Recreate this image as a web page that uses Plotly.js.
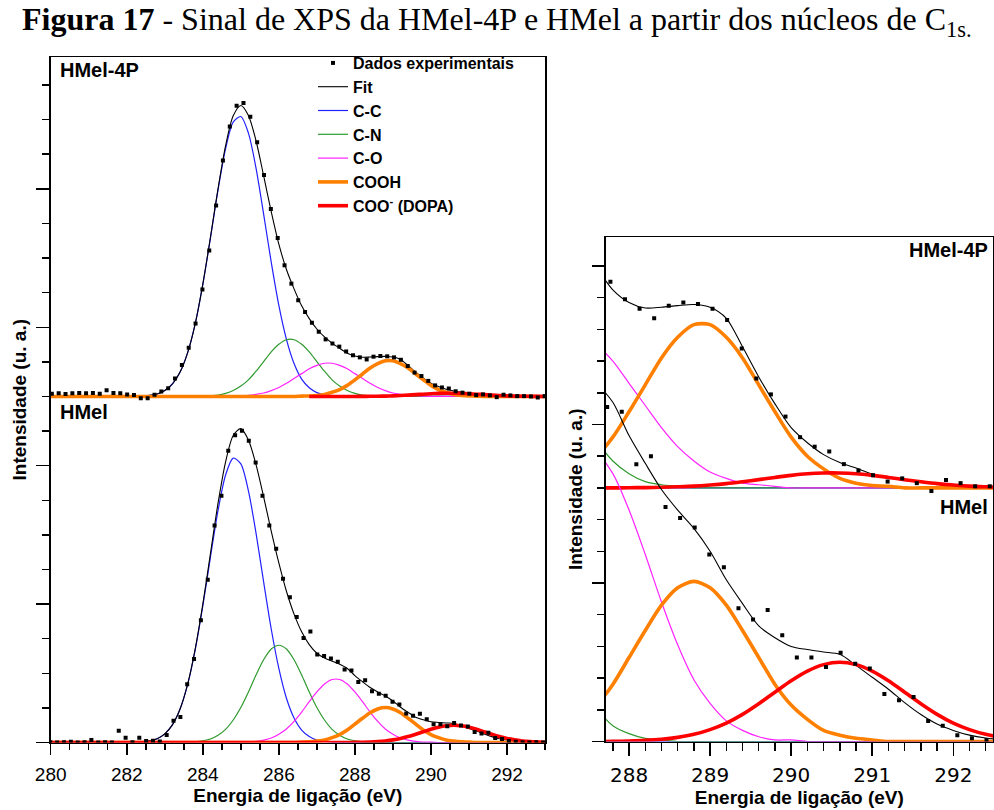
<!DOCTYPE html>
<html>
<head>
<meta charset="utf-8">
<script src="https://cdn.plot.ly/plotly-3.0.1.min.js"></script>
<style>
  html, body { margin: 0; padding: 0; background: #ffffff; }
  #grafico { width: 994px; height: 810px; }
</style>
</head>
<body>
<div id="grafico"></div>
<script>
// ---- Experimental points (binding energy in eV, intensity in arbitrary units) ----
const energiaHMel4P = [
  280.03, 280.21, 280.39, 280.57, 280.75, 280.93, 281.11, 281.29, 281.47, 281.65,
  281.83, 282.01, 282.19, 282.37, 282.55, 282.73, 282.91, 283.09, 283.27, 283.45,
  283.63, 283.81, 283.99, 284.17, 284.35, 284.53, 284.71, 284.89, 285.07, 285.25,
  285.43, 285.61, 285.79, 285.97, 286.15, 286.33, 286.51, 286.69, 286.87, 287.05,
  287.23, 287.41, 287.59, 287.77, 287.95, 288.13, 288.31, 288.49, 288.67, 288.85,
  289.03, 289.21, 289.39, 289.57, 289.75, 289.93, 290.11, 290.29, 290.47, 290.65,
  290.83, 291.01, 291.19, 291.37, 291.55, 291.73, 291.91, 292.09, 292.27, 292.45,
  292.63, 292.81, 292.99
];
const dadosHMel4P = [
  0.08, 0.09, 0.07, 0.09, 0.10, 0.09, 0.10, 0.08, 0.18, 0.10,
  0.09, 0.06, 0.04, -0.05, -0.05, 0.05, 0.14, 0.24, 0.52, 0.91,
  1.41, 2.11, 3.09, 4.22, 5.52, 6.82, 7.80, 8.40, 8.48, 8.08,
  7.35, 6.40, 5.42, 4.58, 3.79, 3.26, 2.78, 2.44, 2.13, 1.87,
  1.65, 1.53, 1.44, 1.30, 1.19, 1.13, 1.07, 1.15, 1.17, 1.16,
  1.13, 1.06, 0.88, 0.69, 0.59, 0.45, 0.32, 0.26, 0.23, 0.15,
  0.11, 0.08, 0.04, 0.06, 0.03, -0.02, 0.05, 0.03, 0.01, 0.01,
  0.00, -0.03, 0.01
];
const energiaHMel = [
  279.99, 280.17, 280.35, 280.53, 280.71, 280.89, 281.07, 281.25, 281.43, 281.61,
  281.79, 281.97, 282.15, 282.33, 282.51, 282.69, 282.87, 283.05, 283.23, 283.41,
  283.59, 283.77, 283.95, 284.13, 284.31, 284.49, 284.67, 284.85, 285.03, 285.21,
  285.39, 285.57, 285.75, 285.93, 286.11, 286.29, 286.47, 286.65, 286.83, 287.01,
  287.19, 287.37, 287.55, 287.73, 287.91, 288.09, 288.27, 288.45, 288.63, 288.81,
  288.99, 289.17, 289.35, 289.53, 289.71, 289.89, 290.07, 290.25, 290.43, 290.61,
  290.79, 290.97, 291.15, 291.33, 291.51, 291.69, 291.87, 292.05, 292.23, 292.41,
  292.59, 292.77, 292.95
];
const dadosHMel = [
  0.01, 0.00, 0.01, 0.02, 0.00, 0.01, 0.07, 0.00, 0.01, 0.00,
  0.34, 0.14, 0.01, 0.14, 0.04, 0.05, 0.03, 0.22, 0.63, 0.74,
  1.68, 2.41, 3.53, 4.70, 6.27, 7.13, 8.43, 8.88, 9.01, 8.72,
  8.09, 7.13, 6.27, 5.60, 4.73, 4.20, 3.63, 3.02, 3.21, 2.54,
  2.50, 2.43, 2.33, 2.11, 2.08, 1.75, 1.80, 1.48, 1.41, 1.35,
  1.18, 1.10, 0.84, 0.77, 0.83, 0.67, 0.53, 0.53, 0.47, 0.56,
  0.49, 0.46, 0.30, 0.26, 0.28, 0.13, 0.10, 0.04, 0.02, 0.01,
  0.00, 0.01, 0.00
];

// ---- Fit envelope and fitted components, on a common energy grid ----
const energiaAjuste = [
  280.0, 280.2, 280.4, 280.6, 280.8, 281.0, 281.2, 281.4, 281.6, 281.8,
  282.0, 282.2, 282.4, 282.6, 282.8, 283.0, 283.2, 283.4, 283.6, 283.8,
  284.0, 284.2, 284.4, 284.6, 284.8, 285.0, 285.2, 285.4, 285.6, 285.8,
  286.0, 286.2, 286.4, 286.6, 286.8, 287.0, 287.2, 287.4, 287.6, 287.8,
  288.0, 288.2, 288.4, 288.6, 288.8, 289.0, 289.2, 289.4, 289.6, 289.8,
  290.0, 290.2, 290.4, 290.6, 290.8, 291.0, 291.2, 291.4, 291.6, 291.8,
  292.0, 292.2, 292.4, 292.6, 292.8, 293.0
];

// HMel-4P
const ajusteHMel4P = [
  null, null, null, null, null, null, null, null, null, null,
  null, null, 0.01, 0.03, 0.07, 0.17, 0.36, 0.70, 1.26, 2.10,
  3.24, 4.59, 6.00, 7.25, 8.11, 8.41, 8.12, 7.39, 6.38, 5.34,
  4.40, 3.67, 3.11, 2.62, 2.25, 1.95, 1.72, 1.54, 1.39, 1.25,
  1.17, 1.135, 1.14, 1.15, 1.157, 1.14, 1.07, 0.89, 0.70, 0.53,
  0.38, 0.285, 0.21, 0.16, 0.125, 0.088, 0.065, 0.047, 0.035, 0.024,
  0.016, 0.010, 0.006, 0.004, 0.002, 0.001
];
const ccHMel4P = [
  0, 0, 0, 0, 0, 0, 0, 0, 0, 0,
  0, 0, 0.01, 0.03, 0.07, 0.17, 0.36, 0.70, 1.26, 2.10,
  3.23, 4.57, 5.96, 7.16, 7.93, 8.09, 7.61, 6.60, 5.27, 3.88,
  2.63, 1.65, 0.95, 0.50, 0.25, 0.11, 0.05, 0.02, 0.01, 0,
  0, 0, 0, 0, 0, 0, 0, 0, 0, 0,
  0, 0, 0, 0, 0, 0, 0, 0, 0, 0,
  0, 0, 0, 0, 0, 0
];
const cnHMel4P = [
  0, 0, 0, 0, 0, 0, 0, 0, 0, 0,
  0, 0, 0, 0, 0, 0, 0, 0, 0, 0,
  0.01, 0.02, 0.04, 0.09, 0.17, 0.30, 0.48, 0.73, 1.01, 1.29,
  1.51, 1.64, 1.64, 1.51, 1.29, 1.01, 0.73, 0.48, 0.30, 0.17,
  0.09, 0.04, 0.02, 0.01, 0, 0, 0, 0, 0, 0,
  0, 0, 0, 0, 0, 0, 0, 0, 0, 0,
  0, 0, 0, 0, 0, 0
];
const coHMel4P = [
  0, 0, 0, 0, 0, 0, 0, 0, 0, 0,
  0, 0, 0, 0, 0, 0, 0, 0, 0, 0,
  0, 0, 0, 0, 0.01, 0.02, 0.03, 0.06, 0.10, 0.17,
  0.26, 0.38, 0.52, 0.66, 0.80, 0.90, 0.96, 0.96, 0.90, 0.80,
  0.66, 0.52, 0.38, 0.26, 0.17, 0.10, 0.06, 0.03, 0.02, 0.01,
  0, 0, 0, 0, 0, 0, 0, 0, 0, 0,
  0, 0, 0, 0, 0, 0
];
const coohHMel4P = [
  0, 0, 0, 0, 0, 0, 0, 0, 0, 0,
  0, 0, 0, 0, 0, 0, 0, 0, 0, 0,
  0, 0, 0, 0, 0, 0, 0, 0, 0, 0,
  0, 0, 0, 0.01, 0.015, 0.03, 0.06, 0.12, 0.20, 0.32,
  0.48, 0.65, 0.82, 0.95, 1.03, 1.03, 0.95, 0.82, 0.65, 0.48,
  0.32, 0.20, 0.12, 0.06, 0.03, 0.015, 0.01, 0, 0, 0,
  0, 0, 0, 0, 0, 0
];
const cooDopaHMel4P = [
  null, null, null, null, null, null, null, null, null, null,
  null, null, null, null, null, null, null, null, null, null,
  null, null, null, null, null, null, null, null, null, null,
  null, null, null, null, 0, 0, 0, 0, 0, 0,
  0.001, 0.002, 0.004, 0.007, 0.011, 0.018, 0.027, 0.039, 0.052, 0.066,
  0.079, 0.089, 0.094, 0.094, 0.089, 0.079, 0.066, 0.052, 0.039, 0.027,
  0.018, 0.011, 0.007, 0.004, 0.002, 0.001
];

// HMel
const ajusteHMel = [
  null, null, null, null, null, null, null, null, null, null,
  null, null, 0.02, 0.05, 0.11, 0.25, 0.51, 0.96, 1.68, 2.70,
  3.99, 5.45, 6.91, 8.11, 8.87, 9.07, 8.74, 8.03, 7.10, 6.11,
  5.19, 4.37, 3.71, 3.20, 2.83, 2.58, 2.44, 2.35, 2.26, 2.14,
  1.93, 1.755, 1.59, 1.46, 1.345, 1.20, 1.02, 0.87, 0.73, 0.655,
  0.60, 0.58, 0.565, 0.55, 0.48, 0.405, 0.33, 0.245, 0.17, 0.11,
  0.07, 0.04, 0.022, 0.012, 0.006, 0.003
];
const ccHMel = [
  0, 0, 0, 0, 0, 0, 0, 0, 0, 0,
  0, 0.01, 0.02, 0.05, 0.11, 0.25, 0.51, 0.96, 1.67, 2.68,
  3.94, 5.35, 6.70, 7.73, 8.22, 8.05, 7.27, 6.05, 4.64, 3.28,
  2.14, 1.28, 0.71, 0.36, 0.17, 0.07, 0.03, 0.01, 0, 0,
  0, 0, 0, 0, 0, 0, 0, 0, 0, 0,
  0, 0, 0, 0, 0, 0, 0, 0, 0, 0,
  0, 0, 0, 0, 0, 0
];
const cnHMel = [
  0, 0, 0, 0, 0, 0, 0, 0, 0, 0,
  0, 0, 0, 0, 0, 0, 0, 0, 0.01, 0.02,
  0.05, 0.10, 0.21, 0.38, 0.65, 1.01, 1.46, 1.95, 2.39, 2.70,
  2.81, 2.70, 2.39, 1.95, 1.46, 1.01, 0.65, 0.38, 0.21, 0.10,
  0.05, 0.02, 0.01, 0, 0, 0, 0, 0, 0, 0,
  0, 0, 0, 0, 0, 0, 0, 0, 0, 0,
  0, 0, 0, 0, 0, 0
];
const coHMel = [
  0, 0, 0, 0, 0, 0, 0, 0, 0, 0,
  0, 0, 0, 0, 0, 0, 0, 0, 0, 0,
  0, 0, 0, 0, 0, 0.01, 0.01, 0.03, 0.07, 0.13,
  0.24, 0.39, 0.61, 0.88, 1.18, 1.46, 1.69, 1.82, 1.82, 1.69,
  1.46, 1.18, 0.88, 0.61, 0.39, 0.24, 0.13, 0.07, 0.03, 0.01,
  0.01, 0, 0, 0, 0, 0, 0, 0, 0, 0,
  0, 0, 0, 0, 0, 0
];
const coohHMel = [
  0, 0, 0, 0, 0, 0, 0, 0, 0, 0,
  0, 0, 0, 0, 0, 0, 0, 0, 0, 0,
  0, 0, 0, 0, 0, 0, 0, 0, 0, 0,
  0, 0, 0, 0.01, 0.02, 0.04, 0.07, 0.14, 0.23, 0.36,
  0.53, 0.70, 0.86, 0.97, 1.01, 0.97, 0.86, 0.70, 0.53, 0.36,
  0.23, 0.14, 0.07, 0.04, 0.02, 0.01, 0, 0, 0, 0,
  0, 0, 0, 0, 0, 0
];
const cooDopaHMel = [
  0, 0, 0, 0, 0, 0, 0, 0, 0, 0,
  0, 0, 0, 0, 0, 0, 0, 0, 0, 0,
  0, 0, 0, 0, 0, 0, 0, 0, 0, 0,
  0, 0, 0, 0, 0, 0, 0, 0, 0, 0.001,
  0.003, 0.007, 0.014, 0.026, 0.045, 0.075, 0.116, 0.171, 0.238, 0.311,
  0.383, 0.444, 0.485, 0.50, 0.485, 0.444, 0.383, 0.311, 0.238, 0.171,
  0.116, 0.075, 0.045, 0.026, 0.014, 0.007
];

// ---- Axis ticks ----
const ticksEnergiaGeral = [280, 282, 284, 286, 288, 290, 292];
const ticksEnergiaZoom = [288, 289, 290, 291, 292];

// ---- Styles of the fitted components ----
const nomesComponentes = ['C-C', 'C-N', 'C-O', 'COOH', 'COO<sup>-</sup> (DOPA)'];
const coresComponentes = ['#2020ff', '#2f9a2f', '#ff22ff', '#ff8000', '#ff0000'];
const largurasComponentes = [1.2, 1.2, 1.2, 3.6, 3.6];

const espectros = [
  { dados: dadosHMel4P, energia: energiaHMel4P, ajuste: ajusteHMel4P,
    comps: [ccHMel4P, cnHMel4P, coHMel4P, coohHMel4P, cooDopaHMel4P], elevado: true },
  { dados: dadosHMel, energia: energiaHMel, ajuste: ajusteHMel,
    comps: [ccHMel, cnHMel, coHMel, coohHMel, cooDopaHMel], elevado: false }
];

// Full view on the left; magnified 287.7-292.5 eV region on the right.
// The HMel-4P spectrum is stacked above HMel by a vertical offset in each panel.
const paineis = [
  { xa: 'x', ya: 'y', desloc: 10, legenda: true },
  { xa: 'x2', ya: 'y2', desloc: 1.6, legenda: false }
];

const subir = (arr, d) => arr.map(v => (v === null ? null : v + d));

const traces = [];
paineis.forEach(p => {
  espectros.forEach(esp => {
    const d = esp.elevado ? p.desloc : 0;
    const mostrar = p.legenda && esp.elevado;
    const linha = i => ({
      type: 'scatter', mode: 'lines', x: energiaAjuste, y: subir(esp.comps[i], d),
      xaxis: p.xa, yaxis: p.ya, name: nomesComponentes[i], showlegend: mostrar,
      legendrank: 3 + i, hoverinfo: 'skip',
      line: { color: coresComponentes[i], width: largurasComponentes[i], shape: 'spline', smoothing: 0.8 }
    });
    // thin components, then the envelope, then the thick components
    [0, 1, 2].forEach(i => traces.push(linha(i)));
    traces.push({
      type: 'scatter', mode: 'lines', x: energiaAjuste, y: subir(esp.ajuste, d),
      xaxis: p.xa, yaxis: p.ya, name: 'Fit', showlegend: mostrar, legendrank: 2,
      hoverinfo: 'skip', line: { color: '#000000', width: 1.1, shape: 'spline', smoothing: 0.8 }
    });
    [3, 4].forEach(i => traces.push(linha(i)));
    traces.push({
      type: 'scatter', mode: 'markers', x: esp.energia, y: subir(esp.dados, d),
      xaxis: p.xa, yaxis: p.ya, name: 'Dados experimentais', showlegend: mostrar,
      legendrank: 1, hoverinfo: 'skip',
      marker: { symbol: 'square', size: 4, color: '#000000' }
    });
  });
});

const W = 994, H = 810;
const fonteSans = 'Liberation Sans, Arial, sans-serif';
const eixoBase = {
  showline: true, mirror: true, linecolor: '#000', linewidth: 1.5,
  showgrid: false, zeroline: false, ticks: 'outside', tickcolor: '#000', tickwidth: 1.5
};
const tituloX = {
  text: '<b>Energia de ligação (eV)</b>',
  font: { family: fonteSans, size: 19, color: '#000' }, standoff: 2
};
const tituloY = {
  text: '<b>Intensidade (u. a.)</b>',
  font: { family: fonteSans, size: 19, color: '#000' }, standoff: 4
};

const layout = {
  width: W, height: H,
  margin: { l: 0, r: 0, t: 0, b: 0 },
  paper_bgcolor: '#fff', plot_bgcolor: '#fff',
  showlegend: true,
  title: {
    text: '<b>Figura 17</b> - Sinal de XPS da HMel-4P e HMel a partir dos núcleos de C<sub>1s.</sub>',
    font: { family: 'Liberation Serif, Times New Roman, serif', size: 32, color: '#000' },
    xref: 'container', yref: 'container', x: 22 / W, xanchor: 'left', y: 1 - 8 / H, yanchor: 'top',
    pad: { t: 0, b: 0, l: 0, r: 0 }
  },
  xaxis: Object.assign({}, eixoBase, {
    domain: [50.7 / W, 545 / W], range: [280, 293], anchor: 'y',
    tickmode: 'array', tickvals: ticksEnergiaGeral, ticklen: 11, ticklabelstandoff: 3,
    tickfont: { family: fonteSans, size: 19, color: '#000' },
    minor: { dtick: 0.5, tick0: 280, ticks: 'outside', ticklen: 6, tickwidth: 1.5, tickcolor: '#000', showgrid: false },
    title: tituloX
  }),
  yaxis: Object.assign({}, eixoBase, {
    domain: [67.5 / H, 753 / H], range: [0, 19.81], anchor: 'x',
    dtick: 4, tick0: 0, ticklen: 13, showticklabels: false,
    minor: { dtick: 1, tick0: 0, ticks: 'outside', ticklen: 7, tickwidth: 1.5, tickcolor: '#000', showgrid: false },
    title: tituloY
  }),
  xaxis2: Object.assign({}, eixoBase, {
    domain: [605.7 / W, 993 / W], range: [287.712, 292.49], anchor: 'y2',
    tickmode: 'array', tickvals: ticksEnergiaZoom, ticklen: 13, ticklabelstandoff: 2,
    tickfont: { family: 'DejaVu Sans, Verdana, sans-serif', size: 20, color: '#000' },
    minor: { dtick: 0.2, tick0: 288, ticks: 'outside', ticklen: 8, tickwidth: 1.5, tickcolor: '#000', showgrid: false },
    title: tituloX
  }),
  yaxis2: Object.assign({}, eixoBase, {
    domain: [68.5 / H, 573 / H], range: [0, 3.183], anchor: 'x2',
    dtick: 1, tick0: 0, ticklen: 12, showticklabels: false,
    minor: { dtick: 0.2, tick0: 0, ticks: 'outside', ticklen: 7, tickwidth: 1.5, tickcolor: '#000', showgrid: false },
    title: tituloY
  }),
  legend: {
    x: 313 / W, xanchor: 'left', y: 1 - 46 / H, yanchor: 'top',
    bgcolor: 'rgba(0,0,0,0)', borderwidth: 0, itemwidth: 30,
    font: { family: fonteSans, size: 16, color: '#000', weight: 'bold' },
    tracegroupgap: 0, traceorder: 'normal'
  },
  annotations: [
    { text: '<b>HMel-4P</b>', xref: 'paper', yref: 'paper', x: 58 / W, y: 1 - 70 / H,
      xanchor: 'left', yanchor: 'middle', showarrow: false, font: { family: fonteSans, size: 20, color: '#000' } },
    { text: '<b>HMel</b>', xref: 'paper', yref: 'paper', x: 58 / W, y: 1 - 412 / H,
      xanchor: 'left', yanchor: 'middle', showarrow: false, font: { family: fonteSans, size: 20, color: '#000' } },
    { text: '<b>HMel-4P</b>', xref: 'paper', yref: 'paper', x: 990 / W, y: 1 - 250 / H,
      xanchor: 'right', yanchor: 'middle', showarrow: false, font: { family: fonteSans, size: 20, color: '#000' } },
    { text: '<b>HMel</b>', xref: 'paper', yref: 'paper', x: 990 / W, y: 1 - 507 / H,
      xanchor: 'right', yanchor: 'middle', showarrow: false, font: { family: fonteSans, size: 20, color: '#000' } }
  ]
};

Plotly.newPlot('grafico', traces, layout, { staticPlot: true, displayModeBar: false });
</script>
</body>
</html>
